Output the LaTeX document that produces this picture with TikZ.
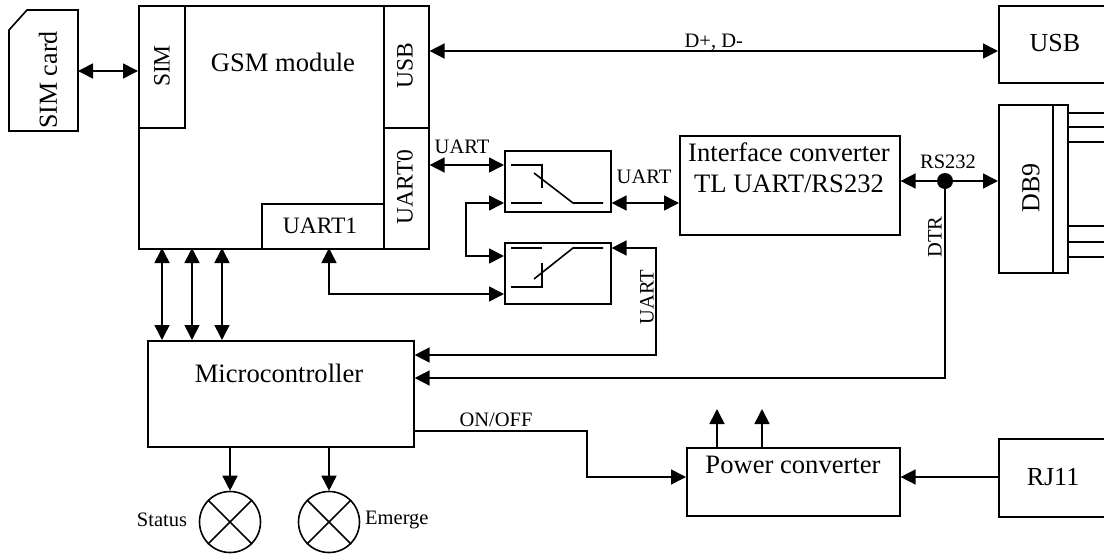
\documentclass[tikz,border=0pt]{standalone}
\usepackage{fontspec}
\setmainfont{Liberation Serif}
\usetikzlibrary{arrows.meta}
\tikzset{
	link/.style={line width=1.6pt},
	one/.style={link, -{Triangle[length=15pt,width=15pt]}},
	both/.style={link, {Triangle[length=15pt,width=15pt]}-{Triangle[length=15pt,width=15pt]}},
	box/.style={draw, line width=1.6pt, inner sep=0pt, anchor=north west},
	big/.style={font=\fontsize{26.6}{31.5}\selectfont, inner sep=0pt},
	conn/.style={font=\fontsize{26}{31}\selectfont, inner sep=0pt},
	mid/.style={font=\fontsize{23.5}{28}\selectfont, inner sep=0pt},
	small/.style={font=\fontsize{20.5}{24}\selectfont, inner sep=0pt},
	lamp/.style={draw, circle, line width=1.6pt, minimum size=61pt, inner sep=0pt}
}
\begin{document}
\begin{tikzpicture}[x=1pt, y=-1pt]
		\useasboundingbox (0,0) rectangle (1104,554);
		
		% GSM module and its ports
		\node[box, minimum width=290pt, minimum height=243pt] (gsm) at (138,5) {};
		\node[box, minimum width=46pt, minimum height=122pt] (sim) at (138,5) {};
		\node[box, minimum width=45pt, minimum height=122pt] (usb) at (383,5) {};
		\node[box, minimum width=45pt, minimum height=121pt] (uart0) at (383,127) {};
		\node[box, minimum width=122pt, minimum height=45pt] (uart1) at (261,203) {};
		\node[big] (gsmtext) at (283,62) {GSM module};
		\node[mid, rotate=90] (simtext) at (162,66) {SIM};
		\node[mid, rotate=90] (usbtext) at (405,66) {USB};
		\node[mid, rotate=90] (uart0text) at (405,187) {UART0};
		\node[mid] (uart1text) at (320,226) {UART1};
		
		% SIM card
		\draw[link] (9,131) -- (9,30) -- (27,10) -- (78,10) -- (78,131) -- cycle;
		\coordinate (card) at (78,71);
		\node[conn, rotate=90] (cardtext) at (48,80) {SIM card};
		
		% Right side connectors
		\node[box, minimum width=110pt, minimum height=77pt] (usbc) at (998,5) {};
		\node[conn] at (1055,43) {USB};
		\node[box, minimum width=54pt, minimum height=168pt] (db) at (998,104) {};
		\node[box, minimum width=15pt, minimum height=168pt] (dbpins) at (1052,104) {};
		\node[conn, rotate=90] at (1031,188) {DB9};
		\foreach \y in {113,127,142,226,242,257}
		\draw[link] (dbpins.east |- 0,\y) -- (1106,\y);
		\node[box, minimum width=110pt, minimum height=78pt] (rj) at (998,438) {};
		\node[conn] at (1053,477) {RJ11};
		
		% Interface converter and switches
		\node[box, minimum width=220pt, minimum height=99pt] (conv) at (679,135) {};
		\node[big, align=center] at (789,168) {Interface converter\\TL UART/RS232};
		\node[box, minimum width=106pt, minimum height=61pt] (swa) at (504,150) {};
		\node[box, minimum width=106pt, minimum height=61pt] (swb) at (504,242) {};
		
		% Switch contacts
		\draw[link] (511,165) -- (542,165) -- (542,188);
		\draw[link] (511,203) -- (542,203);
		\draw[link] (534,173) -- (573,203) -- (603,203);
		\draw[link] (511,248) -- (542,248);
		\draw[link] (511,287) -- (542,287) -- (542,263);
		\draw[link] (534,279) -- (573,248) -- (603,248);
		
		% Lower blocks
		\node[box, minimum width=266pt, minimum height=106pt] (mcu) at (147,340) {};
		\node[big] at (279,373) {Microcontroller};
		\node[box, minimum width=213pt, minimum height=68pt] (pwr) at (686,447) {};
		\node[big] at (793,465) {Power converter};
		\node[lamp] (status) at (230,522) {};
		\node[lamp] (emerge) at (329,522) {};
		\foreach \l in {status,emerge}{
			\draw[link] (\l.north west) -- (\l.south east);
			\draw[link] (\l.north east) -- (\l.south west);
		}
		\node[small] at (162,520) {Status};
		\node[small, anchor=west] at (365,520) {Emerge};
		
		% Data lines
		\draw[both] (card) -- (sim.west |- card);
		\draw[both] (usb.east |- 0,51) -- (usbc.west |- 0,51) node[small, midway, above=0pt] {D+, D-};
		\draw[both] (uart0.east |- 0,165) -- (swa.west |- 0,165);
		\node[small] at (462,147) {UART};
		\draw[both] (swa.east |- 0,203) -- (conv.west |- 0,203);
		\node[small] at (644,177) {UART};
		\draw[both] (swa.west |- 0,203) -- (466,203) -- (466,256) -- (swb.west |- 0,256);
		\draw[both] (329,248) -- (329,294) -- (swb.west |- 0,294);
		\draw[both] (swb.east |- 0,248) -- (656,248) -- (656,355) -- (mcu.east |- 0,355);
		\node[small, rotate=90] at (647,297) {UART};
		
		% RS232 and DTR
		\node[fill=black, circle, inner sep=0pt, minimum size=16pt] (dot) at (945,181) {};
		\draw[both] (conv.east |- dot) -- (db.west |- dot);
		\draw[one] (dot) -- (945,378) -- (mcu.east |- 0,378);
		\node[small] at (948,162) {RS232};
		\node[small, rotate=90] at (935,237) {DTR};
		
		% Microcontroller to module
		\foreach \x in {162,192,222}
		\draw[both] (\x,340) -- (\x,248);
		
		% Control and power
		\draw[one] (mcu.east |- 0,431) -- (587,431) -- (587,477) -- (pwr.west |- 0,477);
		\node[small] at (496,420) {ON/OFF};
		\draw[one] (rj.west |- 0,477) -- (pwr.east |- 0,477);
		\foreach \x in {717,762}
		\draw[one] (\x,447) -- (\x,409);
		\draw[one] (status.north |- mcu.south) -- (status.north);
		\draw[one] (emerge.north |- mcu.south) -- (emerge.north);
	\end{tikzpicture}
\end{document}
